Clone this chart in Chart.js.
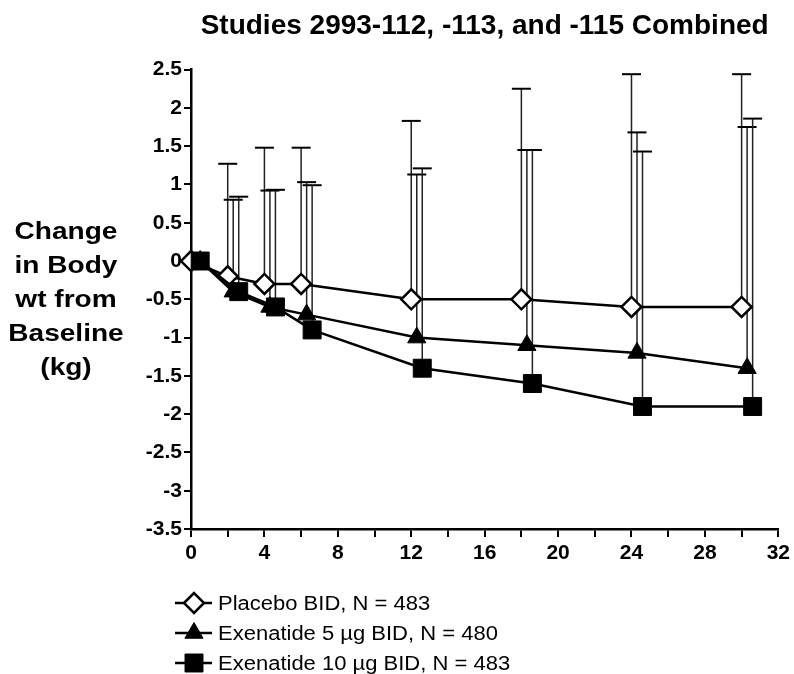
<!DOCTYPE html>
<html>
<head>
<meta charset="utf-8">
<script src="https://cdn.jsdelivr.net/npm/chart.js@4.4.1/dist/chart.umd.min.js"></script>
<style>
  html, body { margin: 0; padding: 0; background: #fff; }
  #grafico { display: block; }
</style>
</head>
<body>
<canvas id="grafico" width="794" height="674"></canvas>
<script>
// semanas (cada braço levemente deslocado no eixo x, como no original)
const weeksPlacebo = [0, 2, 4, 6, 12, 18, 24, 30];
const weeksExen5   = [0.5, 2.3, 4.3, 6.3, 12.3, 18.3, 24.3, 30.3];
const weeksExen10  = [0.5, 2.6, 4.6, 6.6, 12.6, 18.6, 24.6, 30.6];

// variação média do peso (kg)
const placeboMean = [0, -0.2, -0.3, -0.3, -0.5, -0.5, -0.6, -0.6];
const exen5Mean   = [0, -0.4, -0.6, -0.7, -1.0, -1.1, -1.2, -1.4];
const exen10Mean  = [0, -0.4, -0.6, -0.9, -1.4, -1.6, -1.9, -1.9];

// desvio padrão (só a barra superior aparece)
const placeboSD = [0, 1.47, 1.78, 1.78, 2.33, 2.75, 3.04, 3.04];
const exen5SD   = [0, 1.20, 1.52, 1.73, 2.13, 2.55, 2.88, 3.15];
const exen10SD  = [0, 1.24, 1.53, 1.89, 2.61, 3.05, 3.33, 3.76];

const seriesLabels = ['Placebo BID, N = 483', 'Exenatide 5 \u00b5g BID, N = 480', 'Exenatide 10 \u00b5g BID, N = 483'];
const yTitleLines = ['Change', 'in Body', 'wt from', 'Baseline', '(kg)'];
const chartTitle = 'Studies 2993-112, -113, and -115 Combined';

const FONTE = '"Liberation Sans", Arial, Helvetica, sans-serif';

function pontos(xs, ys) {
  return xs.map((x, i) => ({ x: x, y: ys[i] }));
}

// barras de erro (só para cima, com traço no topo)
const errorBarsPlugin = {
  id: 'errorBars',
  beforeDatasetsDraw(chart) {
    const ctx = chart.ctx;
    const yScale = chart.scales.y;
    chart.data.datasets.forEach((ds, i) => {
      const meta = chart.getDatasetMeta(i);
      if (!ds.errorBars) return;
      meta.data.forEach((el, j) => {
        const sd = ds.errorBars[j];
        if (!sd) return;
        const topo = yScale.getPixelForValue(ds.data[j].y + sd);
        ctx.save();
        ctx.strokeStyle = '#222';
        ctx.lineWidth = 1.5;
        ctx.beginPath();
        ctx.moveTo(el.x, el.y);
        ctx.lineTo(el.x, topo);
        ctx.stroke();
        ctx.strokeStyle = '#000';
        ctx.lineWidth = 2;
        ctx.beginPath();
        ctx.moveTo(el.x - 9.5, topo);
        ctx.lineTo(el.x + 9.5, topo);
        ctx.stroke();
        ctx.restore();
      });
    });
  }
};

// título do eixo y na horizontal, à esquerda
const yTitlePlugin = {
  id: 'yTitle',
  afterDraw(chart) {
    const ctx = chart.ctx;
    const area = chart.chartArea;
    ctx.save();
    ctx.fillStyle = '#000';
    ctx.font = 'bold 23px ' + FONTE;
    ctx.textAlign = 'center';
    ctx.textBaseline = 'alphabetic';
    yTitleLines.forEach((t, i) => {
      ctx.save();
      ctx.translate(area.left - 125, area.top + 169 + i * 34);
      ctx.scale(1.22, 1);
      ctx.fillText(t, 0, 0);
      ctx.restore();
    });
    ctx.restore();
  }
};

// legenda embaixo, um item por linha
const legendaPlugin = {
  id: 'legendaManual',
  afterDraw(chart) {
    const ctx = chart.ctx;
    const area = chart.chartArea;
    chart.data.datasets.forEach((ds, i) => {
      const y = area.bottom + 74 + i * 30;
      const x0 = area.left - 16;
      ctx.save();
      ctx.strokeStyle = '#000';
      ctx.lineWidth = 2.5;
      ctx.beginPath();
      ctx.moveTo(x0, y);
      ctx.lineTo(x0 + 37, y);
      ctx.stroke();
      ctx.fillStyle = ds.pointBackgroundColor;
      ctx.strokeStyle = '#000';
      ctx.lineWidth = ds.pointBorderWidth;
      if (Chart.helpers && Chart.helpers.drawPoint) {
        Chart.helpers.drawPoint(ctx, {
          pointStyle: ds.pointStyle,
          radius: ds.pointRadius,
          borderWidth: ds.pointBorderWidth,
          rotation: 0
        }, x0 + 19, y);
      }
      ctx.fillStyle = '#000';
      ctx.font = '20px ' + FONTE;
      ctx.textAlign = 'left';
      ctx.textBaseline = 'alphabetic';
      ctx.translate(area.left + 27, y + 7);
      ctx.scale(1.1, 1);
      ctx.fillText(ds.label, 0, 0);
      ctx.restore();
    });
  }
};

const baseSerie = {
  borderColor: '#000',
  borderWidth: 2.5,
  pointBorderColor: '#000',
  tension: 0,
  fill: false,
  clip: false
};

const ctx = document.getElementById('grafico').getContext('2d');
new Chart(ctx, {
  type: 'line',
  data: {
    datasets: [
      Object.assign({}, baseSerie, {
        label: seriesLabels[0],
        data: pontos(weeksPlacebo, placeboMean),
        errorBars: placeboSD,
        pointStyle: 'rectRot',
        pointRadius: 10,
        pointBackgroundColor: '#fff',
        pointBorderWidth: 2.5,
        order: 3
      }),
      Object.assign({}, baseSerie, {
        label: seriesLabels[1],
        data: pontos(weeksExen5, exen5Mean),
        errorBars: exen5SD,
        pointStyle: 'triangle',
        pointRadius: 10.5,
        pointBackgroundColor: '#000',
        pointBorderWidth: 1,
        order: 2
      }),
      Object.assign({}, baseSerie, {
        label: seriesLabels[2],
        data: pontos(weeksExen10, exen10Mean),
        errorBars: exen10SD,
        pointStyle: 'rect',
        pointRadius: 12.7,
        pointBackgroundColor: '#000',
        pointBorderWidth: 1,
        order: 1
      })
    ]
  },
  options: {
    responsive: false,
    animation: false,
    events: [],
    layout: { padding: { left: 131, right: 14, top: 0, bottom: 99 } },
    scales: {
      x: {
        type: 'linear',
        min: 0,
        max: 32,
        afterFit: s => { s.height = 46; },
        border: { display: true, color: '#000', width: 2.5 },
        grid: { drawOnChartArea: false, drawTicks: true, tickLength: 8, color: '#000', lineWidth: 2 },
        ticks: {
          stepSize: 2,
          autoSkip: false,
          maxRotation: 0,
          padding: 4,
          color: '#000',
          font: { family: FONTE, size: 21, weight: 'bold' },
          callback: v => (v % 4 === 0 ? String(v) : '')
        }
      },
      y: {
        min: -3.5,
        max: 2.5,
        afterFit: s => { s.width = 60; },
        border: { display: true, color: '#000', width: 2.5 },
        grid: { drawOnChartArea: false, drawTicks: true, tickLength: 7, color: '#000', lineWidth: 2 },
        ticks: {
          stepSize: 0.5,
          autoSkip: false,
          padding: 2,
          color: '#000',
          font: { family: FONTE, size: 21, weight: 'bold' },
          callback: v => String(+v.toFixed(1))
        }
      }
    },
    plugins: {
      legend: { display: false },
      tooltip: { enabled: false },
      title: {
        display: true,
        text: chartTitle,
        fullSize: false,
        align: 'center',
        color: '#000',
        font: { family: FONTE, size: 28, weight: 'bold', lineHeight: 1.2 },
        padding: { top: 9, bottom: 27 }
      }
    }
  },
  plugins: [errorBarsPlugin, yTitlePlugin, legendaPlugin]
});
</script>
</body>
</html>
